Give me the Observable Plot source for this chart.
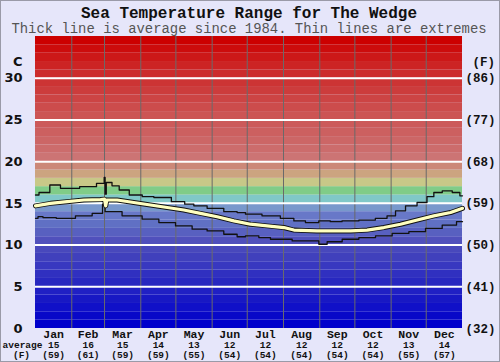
<!DOCTYPE html>
<html>
<head>
<meta charset="utf-8">
<script src="https://cdn.jsdelivr.net/npm/d3@7"></script>
<script src="https://cdn.jsdelivr.net/npm/@observablehq/plot@0.6"></script>
<style>
  html, body { margin: 0; padding: 0; background: #e6e6fa; }
  svg { display: block; outline: 1px solid #9a9aa8; outline-offset: -1px; }
</style>
</head>
<body>
<div id="chart"></div>
<script>
// ---- Data ----
const title = "Sea Temperature Range for The Wedge";
const subtitle = "Thick line is average since 1984. Thin lines are extremes";

const months = ["Jan","Feb","Mar","Apr","May","Jun","Jul","Aug","Sep","Oct","Nov","Dec"];
const monthAvgC = [15,16,15,14,13,12,12,12,12,12,13,14];
const monthAvgF = [59,61,59,59,55,54,54,54,54,54,55,57];
const monthStartDays = [0,31,59,90,120,151,181,212,243,273,304,334,365];

const celsiusTicks = [0,5,10,15,20,25,30];
const fahrenheitTicks = [32,41,50,59,68,77,86];

// upper extreme (day of year, °C)
const upperDays = [0,6,18.5,24.2,51.3,53,58.4,59,60,61,69.8,73.3,87,95.5,106.9,125.4,129.7,141,152.4,169.5,175.2,183.8,203.4,215.2,226.5,235,249.3,254.7,269.3,283.5,297.5,303.5,312,320.6,331.7,337.6,343.4,352,360.5,365];
const upperTemp = [16.0,16.3,17.2,16.8,17.0,17.4,17.4,18.1,16.1,17.5,17.1,16.6,16.0,15.8,15.7,15.2,14.9,14.7,14.4,14.0,13.9,13.7,13.5,13.2,12.9,12.7,12.9,12.8,12.9,13.0,13.2,13.5,14.1,14.7,15.1,15.8,16.3,16.5,16.3,15.9];

// average
const avgDays = [0,12.8,27,41.3,55.6,59,60,61,69.8,84,98.3,112.6,126.8,141,155.3,169.5,183.8,198,212.3,220.9,240.6,269.3,283.5,297.8,312,326.3,340.5,354.8,365];
const avgTemp = [14.7,15.0,15.2,15.4,15.45,15.5,14.7,15.4,15.4,15.1,14.8,14.5,14.2,13.8,13.4,12.9,12.5,12.3,12.1,11.8,11.7,11.7,11.8,12.1,12.5,13.0,13.5,13.9,14.4];

// lower extreme
const lowerDays = [0,4.3,8.5,27,41.3,55.6,59,60,64,84,98.3,112.6,126.8,141,152.4,169.5,175.2,183.8,198,203.7,212.3,226.5,240.8,243.6,255,269.3,283.5,297.8,312,326.3,340.5,354.8,365];
const lowerTemp = [13.2,13.4,13.3,13.2,13.5,13.8,14.9,14.0,14.0,13.5,13.1,12.7,12.3,11.9,11.7,11.3,11.0,11.1,10.9,10.7,10.7,10.5,10.5,10.1,10.4,10.7,10.9,11.1,11.4,11.6,12.0,12.4,12.8];

// background colour band for each 1 °C step (0-1, 1-2, ... 34-35)
const bandColors = ["#0000cc","#0808c8","#1010c8","#1818c4","#2020c4","#2828c0","#3030c0","#3838c0","#4040bc","#4848bc","#5050bc","#5860c0","#6070c4","#6878c8","#7898cc","#80c8c8","#80cc88","#c8c888","#cca480","#cc8878","#cc7474","#cc6c6c","#cc6666","#cc6060","#cc5a5a","#cc5454","#cc4c4c","#cc4444","#cc3c3c","#cc3434","#cc2c2c","#cc2424","#cc1818","#cc0c0c","#cc0000"];

// ---- Build tables ----
const bands = bandColors.map((c, i) => ({lo: i, hi: i + 1, color: c}));
const upper = upperDays.map((d, i) => ({day: d, t: upperTemp[i]}));
const avg = avgDays.map((d, i) => ({day: d, t: avgTemp[i]}));
const lower = lowerDays.map((d, i) => ({day: d, t: lowerTemp[i]}));
const monthInfo = months.map((m, i) => ({
  name: m,
  mid: (monthStartDays[i] + monthStartDays[i + 1]) / 2,
  c: monthAvgC[i],
  f: monthAvgF[i]
}));
const fTickData = fahrenheitTicks.map((f, i) => ({c: celsiusTicks[i], f}));

const mono = "Liberation Mono, Courier New, monospace";
const sans = "DejaVu Sans, Verdana, sans-serif";
const ink = "#111";

const chart = Plot.plot({
  width: 500,
  height: 362,
  marginTop: 36,
  marginBottom: 34,
  marginLeft: 35,
  marginRight: 38,
  x: {domain: [0, 365], axis: null},
  y: {domain: [0, 35], axis: null},
  color: {type: "identity"},
  style: {background: "#e6e6fa", overflow: "visible"},
  marks: [
    Plot.rect(bands, {x1: () => 0, x2: () => 365, y1: "lo", y2: "hi", fill: "color", inset: 0}),
    Plot.ruleX(monthStartDays.slice(1, 12), {stroke: "#6a6a6a", strokeWidth: 1}),
    Plot.ruleY(celsiusTicks.slice(1), {stroke: "#ffffff", strokeWidth: 2}),
    Plot.line(upper, {x: "day", y: "t", stroke: ink, strokeWidth: 1.3, curve: "step"}),
    Plot.line(lower, {x: "day", y: "t", stroke: ink, strokeWidth: 1.3, curve: "step"}),
    Plot.line(avg, {x: "day", y: "t", stroke: ink, strokeWidth: 5}),
    Plot.line(avg, {x: "day", y: "t", stroke: "#ffffc0", strokeWidth: 3.2}),
    // left axis (°C)
    Plot.text(celsiusTicks, {y: d => d, text: d => String(d), frameAnchor: "left", dx: -13, textAnchor: "end",
      lineAnchor: "middle", fontSize: 13, fontWeight: "bold", fontFamily: sans, fill: ink}),
    Plot.text(["C"], {y: () => 32, text: d => d, frameAnchor: "left", dx: -13, textAnchor: "end",
      lineAnchor: "middle", fontSize: 13, fontWeight: "bold", fontFamily: sans, fill: ink}),
    // right axis (°F)
    Plot.text(fTickData, {y: "c", text: d => `(${d.f})`, frameAnchor: "right", dx: 3, textAnchor: "start",
      lineAnchor: "middle", fontSize: 12.5, fontWeight: "bold", fontFamily: mono, fill: ink}),
    Plot.text(["(F)"], {y: () => 32, text: d => d, frameAnchor: "right", dx: 10, textAnchor: "start",
      lineAnchor: "middle", fontSize: 12.5, fontWeight: "bold", fontFamily: mono, fill: ink}),
    // bottom month labels
    Plot.text(monthInfo, {x: "mid", text: "name", frameAnchor: "bottom", dy: 5.5, lineAnchor: "middle",
      fontSize: 11.5, fontWeight: "bold", fontFamily: mono, fill: ink}),
    Plot.text(monthInfo, {x: "mid", text: d => String(d.c), frameAnchor: "bottom", dy: 16, lineAnchor: "middle",
      fontSize: 9.5, fontWeight: "bold", fontFamily: mono, fill: ink}),
    Plot.text(monthInfo, {x: "mid", text: d => `(${d.f})`, frameAnchor: "bottom", dy: 26, lineAnchor: "middle",
      fontSize: 9.5, fontWeight: "bold", fontFamily: mono, fill: ink}),
    Plot.text(["average"], {frameAnchor: "bottom-left", dx: -13, dy: 16, text: d => d, textAnchor: "middle",
      lineAnchor: "middle", fontSize: 9.5, fontWeight: "bold", fontFamily: mono, fill: ink}),
    Plot.text(["(F)"], {frameAnchor: "bottom-left", dx: -14, dy: 26, text: d => d, textAnchor: "middle",
      lineAnchor: "middle", fontSize: 9.5, fontWeight: "bold", fontFamily: mono, fill: ink}),
    // title & subtitle
    Plot.text([title], {frameAnchor: "top", dy: -24, text: d => d, lineAnchor: "middle",
      fontSize: 16, fontWeight: "bold", fontFamily: mono, fill: ink}),
    Plot.text([subtitle], {frameAnchor: "top", dy: -8, text: d => d, lineAnchor: "middle",
      fontSize: 13.9, fontFamily: mono, fill: "#555"})
  ]
});

document.getElementById("chart").appendChild(chart);
</script>
</body>
</html>
